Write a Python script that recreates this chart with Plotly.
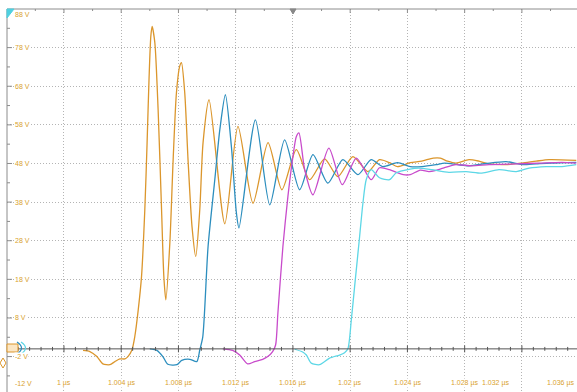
import plotly.graph_objects as go

# ---------------- data (time in ns after 1 µs, voltage in V) ----------------
grid_t = [0, 4, 8, 12, 16, 20, 24, 28, 32, 36]
x_tick_labels = ["1 µs", "1.004 µs", "1.008 µs", "1.012 µs", "1.016 µs",
                 "1.02 µs", "1.024 µs", "1.028 µs", "1.032 µs", "1.036 µs"]
grid_v = [88, 78, 68, 58, 48, 38, 28, 18, 8, -2, -12]
y_tick_labels = ["88 V", "78 V", "68 V", "58 V", "48 V", "38 V", "28 V",
                 "18 V", "8 V", "-2 V", "-12 V"]

orange_t = [1.33, 1.81, 2.30, 2.72, 3.21, 3.56, 3.91, 4.26, 4.47, 4.75, 4.95, 5.19, 5.42,
            5.65, 5.81, 5.95, 6.07, 6.16, 6.35, 6.58, 6.82, 6.98, 7.12, 7.40, 7.63, 7.86,
            8.09, 8.21, 8.44, 8.67, 8.95, 9.21, 9.49, 9.72, 10.14, 11.24, 12.16, 13.21,
            14.26, 15.23, 16.24, 17.17, 18.21, 19.14, 20.19, 21.24, 22.05, 22.75, 23.3,
            24.2, 25.0, 25.8, 26.3, 26.8, 27.4, 28.3, 29.0, 29.7, 30.9, 32.0, 33.0, 33.9, 35.8]
orange_v = [-0.4, -0.7, -2.0, -3.9, -4.1, -3.3, -2.6, -2.6, -2.0, -0.3, 3.2, 10.1, 18.7,
            36.0, 53.4, 70.5, 80.9, 83.5, 79.3, 61.9, 36.0, 18.7, 12.7, 27.5, 49.0, 66.3,
            73.2, 74.1, 66.3, 49.0, 31.6, 23.9, 36.0, 53.4, 64.5, 32.4, 57.6, 37.7,
            53.4, 41.2, 51.6, 43.8, 49.2, 44.6, 49.8, 45.9, 49.0, 48.2, 47.2,
            48.2, 48.6, 49.4, 49.4, 48.6, 48.1, 49.0, 48.6, 47.9, 47.7, 48.1, 48.6, 49.0, 48.8]

blue_t = [6.0, 6.49, 6.91, 7.26, 7.89, 8.23, 8.79, 9.28, 9.49, 9.70, 10.07, 10.54, 10.89,
          11.28, 11.70, 12.05, 12.23, 13.38, 14.38, 15.42, 16.47, 17.40, 18.44, 19.49,
          20.54, 21.47, 22.26, 23.31, 24.2, 25.0, 26.0, 26.6, 27.5, 28.3, 29.5, 30.9,
          32.0, 33.0, 34.0, 35.8]
blue_v = [0.0, -0.4, -2.0, -4.0, -4.1, -3.0, -2.7, -3.3, -0.3, 3.1, 26.5, 43.8, 56.7,
          65.8, 52.4, 35.2, 31.3, 59.3, 37.3, 54.1, 41.2, 50.3, 42.9, 49.0,
          45.1, 49.0, 47.2, 48.2, 47.2, 47.2, 47.7, 48.1, 47.7, 47.4, 48.0, 48.5,
          47.7, 47.9, 48.1, 48.3]

magenta_t = [11.10, 11.79, 12.28, 12.84, 13.33, 13.89, 14.24, 14.58, 14.79, 14.95, 15.30,
             15.65, 16.0, 16.24, 16.42, 16.82, 17.40, 18.51, 19.45, 20.43, 21.47, 22.05,
             22.75, 23.3, 23.7, 24.2, 24.9, 25.5, 26.0, 26.5, 27.4, 28.5, 29.7, 31.6,
             33.2, 34.8, 35.8]
magenta_v = [0.0, -0.4, -1.6, -3.9, -3.3, -2.7, -2.0, -0.7, 1.0, 9.3, 26.5,
             39.5, 49.8, 55.0, 55.9, 46.4, 39.9, 52.0, 42.5, 49.4, 43.8, 46.9,
             46.4, 45.6, 45.1, 45.1, 46.3, 45.9, 46.2, 46.8, 47.7, 47.4, 47.7, 47.9,
             48.1, 48.3, 48.1]

cyan_t = [16.12, 16.68, 16.94, 17.28, 17.86, 18.56, 19.26, 19.61, 19.84, 20.08, 20.31,
          20.66, 20.89, 21.12, 21.47, 22.05, 22.75, 23.22, 24.1, 24.8, 25.7, 26.9, 28.1,
          29.2, 30.4, 31.6, 32.5, 33.7, 34.8, 35.8]
cyan_v = [-0.1, -0.8, -1.6, -3.7, -4.1, -2.4, -1.6, -1.0, 0.0, 7.5, 16.1,
          29.1, 37.7, 43.8, 46.4, 44.3, 43.8, 45.6, 46.5, 46.8, 46.4, 45.7, 45.9,
          45.5, 46.4, 45.9, 46.8, 47.2, 47.2, 47.7]

# ---------------- geometry helpers ----------------
W, H = 577, 392
ML, MT = 7, 9
X_RANGE = [-3.98, 35.85]
Y_RANGE = [-11.17, 88.0]
PW, PH = W - ML, H - MT


def px(xp):
    return (xp - ML) / PW


def py(yp):
    return 1 - (yp - MT) / PH


def tx(tv):
    return (tv - X_RANGE[0]) / (X_RANGE[1] - X_RANGE[0])


LABEL_COLOR = "#D9A12E"
GRID_COLOR = "#b4b4b4"
FONT = "Liberation Sans, Arial, sans-serif"

fig = go.Figure()
for tt, vv, col in [(orange_t, orange_v, "#DB962C"),
                    (blue_t, blue_v, "#2C8EBE"),
                    (magenta_t, magenta_v, "#C84BCB"),
                    (cyan_t, cyan_v, "#5DD7E6")]:
    fig.add_trace(go.Scatter(x=tt, y=vv, mode="lines",
                             line=dict(color=col, width=1.3, shape="spline", smoothing=0.7),
                             hoverinfo="skip", showlegend=False))

shapes = []
# borders
shapes.append(dict(type="line", xref="paper", yref="paper", x0=0, x1=1, y0=1, y1=1,
                   line=dict(color="#8c8c8c", width=1)))
shapes.append(dict(type="line", xref="paper", yref="paper", x0=0, x1=0, y0=0, y1=1,
                   line=dict(color="#8c8c8c", width=1)))
# baseline axis at 0 V with ticks
shapes.append(dict(type="line", xref="paper", yref="y", x0=0, x1=1, y0=0, y1=0,
                   line=dict(color="#555555", width=1)))
k = 0
t = -4.0
while t < 36.0:
    major = (k % 5 == 0)
    h = 0.9 if major else 0.5
    shapes.append(dict(type="line", xref="x", yref="y", x0=t, x1=t, y0=-h, y1=h,
                       line=dict(color="#555555", width=1)))
    t += 0.8
    k += 1
# top border ticks
t = -4.0
k = 0
while t < 36.0:
    h = 4 if k % 2 == 0 else 2
    shapes.append(dict(type="line", xref="x", yref="paper", x0=t, x1=t, y0=1, y1=1 - h / PH,
                       line=dict(color="#8c8c8c", width=1)))
    t += 2.0
    k += 1
# left border ticks
v = 88.0
k = 0
while v > -11:
    w = 5 if k % 2 == 0 else 3
    shapes.append(dict(type="line", xref="paper", yref="y", x0=0, x1=w / PW, y0=v, y1=v,
                       line=dict(color="#8c8c8c", width=1)))
    v -= 5.0
    k += 1
# trigger marker at top
shapes.append(dict(type="path", xref="paper", yref="paper",
                   path=f"M {px(290)} {py(9)} L {px(296)} {py(9)} L {px(293)} {py(14)} Z",
                   fillcolor="#888888", line=dict(color="#888888", width=1)))
# cyan corner triangle
shapes.append(dict(type="path", xref="paper", yref="paper",
                   path=f"M {px(7)} {py(9)} L {px(14)} {py(9)} L {px(7)} {py(18)} Z",
                   fillcolor="#4fd0e0", line=dict(color="#4fd0e0", width=1)))
# ground markers
shapes.append(dict(type="rect", xref="paper", yref="paper",
                   x0=px(7), x1=px(18), y0=py(352), y1=py(344),
                   fillcolor="#fbe6c4", line=dict(color="#DB962C", width=1)))
for x0, col in [(17, "#2C8EBE"), (21, "#5DD7E6")]:
    shapes.append(dict(type="path", xref="paper", yref="paper",
                       path=f"M {px(x0)} {py(342)} Q {px(x0 + 9)} {py(348)} {px(x0)} {py(354)}",
                       line=dict(color=col, width=1.2)))
shapes.append(dict(type="path", xref="paper", yref="paper",
                   path=f"M {px(0)} {py(363)} L {px(3)} {py(358)} L {px(6)} {py(363)} L {px(3)} {py(368)} Z",
                   fillcolor="rgba(0,0,0,0)", line=dict(color="#DB962C", width=1)))

annotations = []
BOTTOM_ROW = py(383)
# y labels
for val, lab in zip(grid_v, y_tick_labels):
    if val == grid_v[-1]:
        yy, yr, ys = BOTTOM_ROW, "paper", 0
    elif val == grid_v[0]:
        yy, yr, ys = val, "y", -5
    else:
        yy, yr, ys = val, "y", 0
    annotations.append(dict(x=px(14), xref="paper", y=yy, yref=yr, yshift=ys,
                            text=lab, showarrow=False, xanchor="left", yanchor="middle",
                            bgcolor="white", borderpad=0,
                            font=dict(family=FONT, size=7, color=LABEL_COLOR)))
# x labels (paper coords so the right-most label is still drawn)
xshift_map = {len(grid_t) - 2: -26}
for i, (tv, lab) in enumerate(zip(grid_t, x_tick_labels)):
    if i == len(grid_t) - 1:
        annotations.append(dict(x=1, xref="paper", y=BOTTOM_ROW, yref="paper",
                                xshift=-2, text=lab, showarrow=False,
                                xanchor="right", yanchor="middle",
                                bgcolor="white", borderpad=0,
                                font=dict(family=FONT, size=7, color=LABEL_COLOR)))
        continue
    annotations.append(dict(x=tx(tv), xref="paper", y=BOTTOM_ROW, yref="paper",
                            xshift=xshift_map.get(i, 0),
                            text=lab, showarrow=False, xanchor="center", yanchor="middle",
                            bgcolor="white", borderpad=0,
                            font=dict(family=FONT, size=7, color=LABEL_COLOR)))

fig.update_layout(
    width=W, height=H,
    margin=dict(l=ML, r=0, t=MT, b=0, pad=0),
    paper_bgcolor="white", plot_bgcolor="white",
    xaxis=dict(range=X_RANGE, tickvals=grid_t, showticklabels=False, ticks="",
               showgrid=True, gridcolor=GRID_COLOR, griddash="1px,2px", gridwidth=1,
               zeroline=False, showline=False, fixedrange=True),
    yaxis=dict(range=Y_RANGE, tickvals=grid_v[1:-1], showticklabels=False, ticks="",
               showgrid=True, gridcolor=GRID_COLOR, griddash="1px,2px", gridwidth=1,
               zeroline=False, showline=False, fixedrange=True),
    shapes=shapes,
    annotations=annotations,
    showlegend=False,
)

fig.write_html("out.html")
